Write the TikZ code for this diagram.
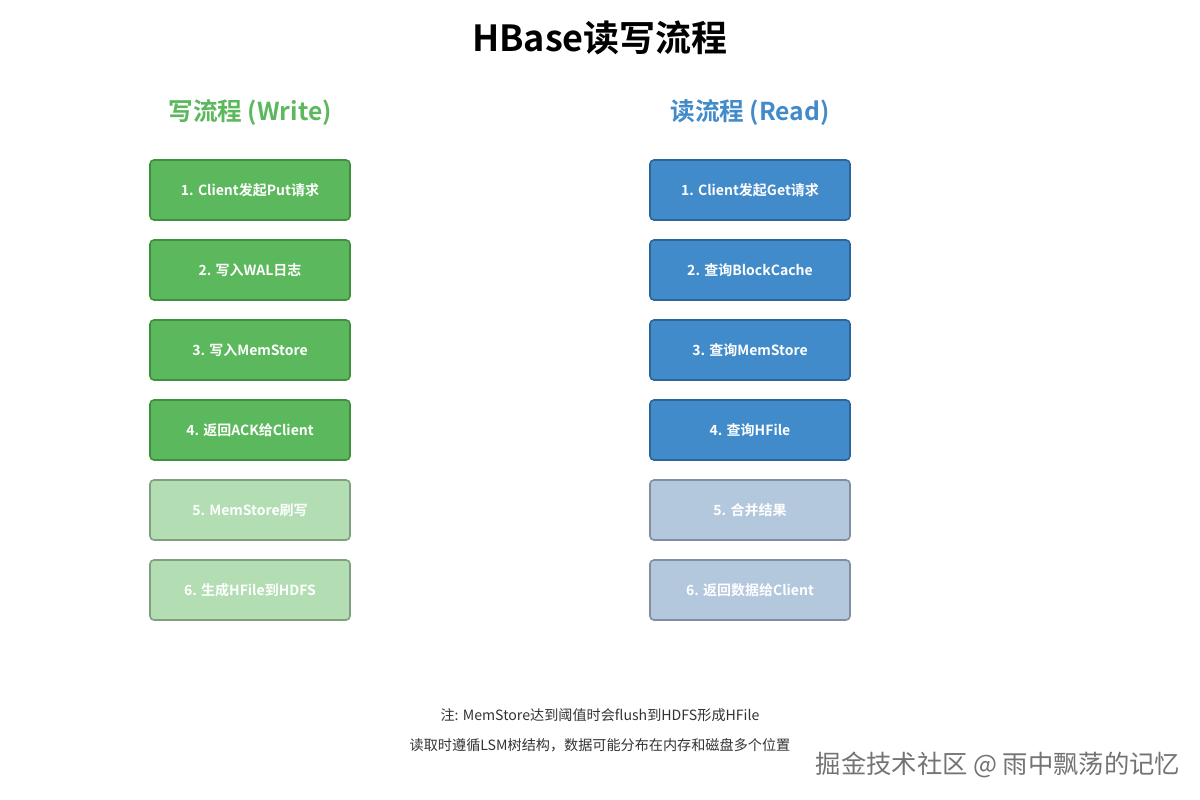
\documentclass[tikz,border=0pt]{standalone}
\usepackage{fontspec}
\setmainfont{Noto Sans CJK SC}
\newfontfamily\cjkbold{Noto Sans CJK SC Bold}
\usetikzlibrary{positioning}

\definecolor{wgreen}{HTML}{5CB85C}
\definecolor{wgreenline}{HTML}{3F8F3F}
\definecolor{wgreenlight}{HTML}{B3DDB3}
\definecolor{wgreenlightline}{HTML}{7F9F7F}
\definecolor{rblue}{HTML}{428BCA}
\definecolor{rblueline}{HTML}{2C6699}
\definecolor{rbluelight}{HTML}{B3C8DD}
\definecolor{rbluelightline}{HTML}{7F8FA0}
\definecolor{notegray}{HTML}{333333}

\tikzset{
  stepbox/.style={rectangle,rounded corners=3pt,line width=1.2pt,minimum width=150pt,
    minimum height=45pt,text=white,font=\cjkbold\fontsize{10.5}{12}\selectfont},
  wstep/.style={stepbox,fill=wgreen,draw=wgreenline},
  wlate/.style={stepbox,fill=wgreenlight,draw=wgreenlightline},
  rstep/.style={stepbox,fill=rblue,draw=rblueline},
  rlate/.style={stepbox,fill=rbluelight,draw=rbluelightline},
  heading/.style={font=\cjkbold\fontsize{18.5}{22}\selectfont},
  note/.style={text=notegray,font=\fontsize{10.6}{12}\selectfont},
  link/.style={white,line width=1.5pt}
}

\begin{document}
\begin{tikzpicture}[x=0.75pt,y=-0.75pt]
\useasboundingbox (0,0) rectangle (1200,800);
\node[font=\cjkbold\fontsize{27}{30}\selectfont] (title) at (600,38) {HBase读写流程};
\node[heading,text=wgreen] (whead) at (250,112) {写流程 (Write)};
\node[heading,text=rblue] (rhead) at (750,112) {读流程 (Read)};
% write path
\node[wstep] (w1) at (250,190) {1. Client发起Put请求};
\node[wstep] (w2) at (250,270) {2. 写入WAL日志};
\node[wstep] (w3) at (250,350) {3. 写入MemStore};
\node[wstep] (w4) at (250,430) {4. 返回ACK给Client};
\node[wlate] (w5) at (250,510) {5. MemStore刷写};
\node[wlate] (w6) at (250,590) {6. 生成HFile到HDFS};
% read path
\node[rstep] (r1) at (750,190) {1. Client发起Get请求};
\node[rstep] (r2) at (750,270) {2. 查询BlockCache};
\node[rstep] (r3) at (750,350) {3. 查询MemStore};
\node[rstep] (r4) at (750,430) {4. 查询HFile};
\node[rlate] (r5) at (750,510) {5. 合并结果};
\node[rlate] (r6) at (750,590) {6. 返回数据给Client};
\foreach \a/\b in {w1/w2,w2/w3,w3/w4,w4/w5,w5/w6,r1/r2,r2/r3,r3/r4,r4/r5,r5/r6}
  \draw[link] (\a.south) -- (\b.north);
% notes
\node[note] (n1) at (600,715) {注: MemStore达到阈值时会flush到HDFS形成HFile};
\node[note] (n2) at (600,745) {读取时遵循LSM树结构，数据可能分布在内存和磁盘多个位置};
\node[text=black!55,font=\fontsize{19}{22}\selectfont] (mark) at (998,765) {掘金技术社区 @ 雨中飘荡的记忆};
\end{tikzpicture}
\end{document}
